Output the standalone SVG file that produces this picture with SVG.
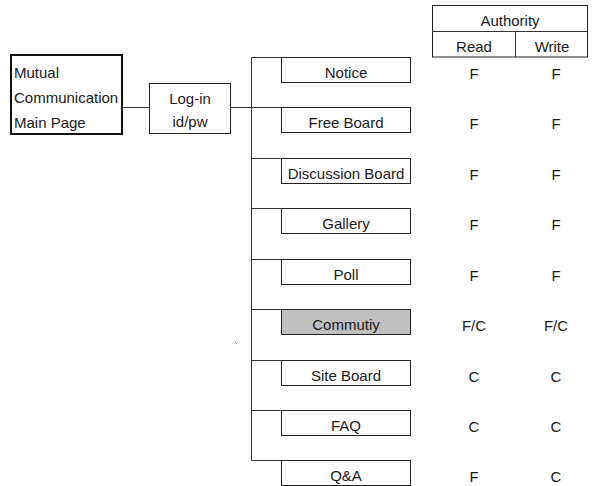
<svg xmlns="http://www.w3.org/2000/svg" width="592" height="486" viewBox="0 0 592 486">
<style>
  text { font-family: "Liberation Sans", Arial, sans-serif; font-size: 15px; fill: #1a1a1a; }
  .c { text-anchor: middle; }
  .box { fill: #ffffff; stroke: #222; stroke-width: 1; }
  .grey { fill: #c0c0c0; }
  .main { fill: #ffffff; stroke: #111; stroke-width: 2; }
  .ln { fill: none; stroke: #333; stroke-width: 1; }
</style>
<rect width="592" height="486" fill="#ffffff"/>

<g id="connectors" class="ln">
  <path d="M122,107.5 H149.5"/>
  <path d="M230.5,107.5 H251.5"/>
  <path d="M251.5,57.5 V460.5"/>
  <path d="M251.5,57.5 H281.5"/>
  <path d="M251.5,107.5 H281.5"/>
  <path d="M251.5,158.5 H281.5"/>
  <path d="M251.5,208.5 H281.5"/>
  <path d="M251.5,259.5 H281.5"/>
  <path d="M251.5,309.5 H281.5"/>
  <path d="M251.5,360.5 H281.5"/>
  <path d="M251.5,410.5 H281.5"/>
  <path d="M251.5,460.5 H281.5"/>
  <path d="M235,342 L237,344" stroke="#888"/>
</g>

<g id="main">
  <rect class="main" x="11" y="55" width="111" height="79"/>
  <text x="14" y="78">Mutual</text>
  <text x="14" y="103">Communication</text>
  <text x="14" y="128">Main Page</text>
</g>

<g id="login">
  <rect class="box" x="149.5" y="83.5" width="81" height="50"/>
  <text class="c" x="190" y="104">Log-in</text>
  <text class="c" x="190" y="127">id/pw</text>
</g>

<g id="authority">
  <rect class="box" x="432.5" y="5.5" width="155" height="51.5"/>
  <path class="ln" d="M432.5,31.5 H587.5 M515.5,31.5 V57"/>
  <text class="c" x="510" y="26">Authority</text>
  <text class="c" x="474" y="52">Read</text>
  <text class="c" x="552" y="52">Write</text>
</g>

<g id="notice">
  <rect class="box" x="281.5" y="57.5" width="129" height="25"/>
  <text class="c" x="346" y="78">Notice</text>
  <text class="c" x="474" y="79">F</text>
  <text class="c" x="556" y="79">F</text>
</g>
<g id="freeboard">
  <rect class="box" x="281.5" y="107.5" width="129" height="25"/>
  <text class="c" x="346" y="128">Free Board</text>
  <text class="c" x="474" y="129">F</text>
  <text class="c" x="556" y="129">F</text>
</g>
<g id="discussion">
  <rect class="box" x="281.5" y="158.5" width="129" height="25"/>
  <text class="c" x="346" y="179">Discussion Board</text>
  <text class="c" x="474" y="180">F</text>
  <text class="c" x="556" y="180">F</text>
</g>
<g id="gallery">
  <rect class="box" x="281.5" y="208.5" width="129" height="25"/>
  <text class="c" x="346" y="229">Gallery</text>
  <text class="c" x="474" y="230">F</text>
  <text class="c" x="556" y="230">F</text>
</g>
<g id="poll">
  <rect class="box" x="281.5" y="259.5" width="129" height="25"/>
  <text class="c" x="346" y="280">Poll</text>
  <text class="c" x="474" y="281">F</text>
  <text class="c" x="556" y="281">F</text>
</g>
<g id="community">
  <rect class="box grey" x="281.5" y="309.5" width="129" height="25"/>
  <text class="c" x="346" y="330">Commutiy</text>
  <text class="c" x="474" y="331">F/C</text>
  <text class="c" x="556" y="331">F/C</text>
</g>
<g id="siteboard">
  <rect class="box" x="281.5" y="360.5" width="129" height="25"/>
  <text class="c" x="346" y="381">Site Board</text>
  <text class="c" x="474" y="382">C</text>
  <text class="c" x="556" y="382">C</text>
</g>
<g id="faq">
  <rect class="box" x="281.5" y="410.5" width="129" height="25"/>
  <text class="c" x="346" y="431">FAQ</text>
  <text class="c" x="474" y="432">C</text>
  <text class="c" x="556" y="432">C</text>
</g>
<g id="qna">
  <rect class="box" x="281.5" y="460.5" width="129" height="25"/>
  <text class="c" x="346" y="481">Q&amp;A</text>
  <text class="c" x="474" y="482">F</text>
  <text class="c" x="556" y="482">C</text>
</g>
</svg>
